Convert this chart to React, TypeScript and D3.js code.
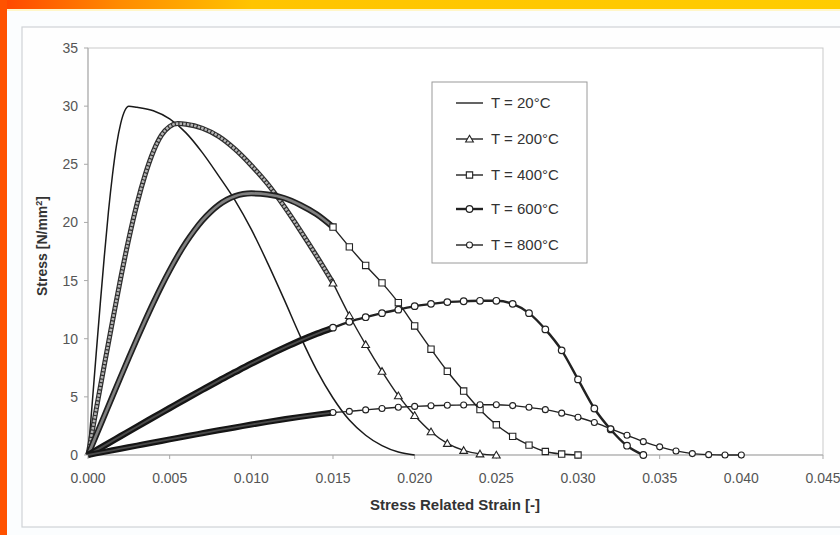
import React from "react";
import * as d3 from "d3";

// ---------- data ----------
const X_TICKS = [0, 0.005, 0.01, 0.015, 0.02, 0.025, 0.03, 0.035, 0.04, 0.045];
const Y_TICKS = [0, 5, 10, 15, 20, 25, 30, 35];
const SERIES_NAMES = ["T = 20°C", "T = 200°C", "T = 400°C", "T = 600°C", "T = 800°C"];

const T20_STRAIN = [0, 0.00025, 0.0005, 0.00075, 0.001, 0.00125, 0.0015, 0.00175, 0.002, 0.00225, 0.0025,
  0.003, 0.004, 0.005, 0.006, 0.007, 0.008, 0.009, 0.010, 0.011, 0.012, 0.013, 0.014, 0.015, 0.016, 0.017, 0.018, 0.019, 0.020];
const T20_STRESS = [0, 4.3, 8.7, 13.0, 17.1, 20.9, 24.1, 26.7, 28.5, 29.6, 30.0,
  29.9, 29.6, 28.9, 27.7, 26.0, 24.0, 21.9, 19.4, 16.5, 13.4, 10.2, 7.3, 4.9, 3.0, 1.7, 0.8, 0.25, 0];

const T200_STRAIN = [0, 0.0005, 0.001, 0.0015, 0.002, 0.0025, 0.003, 0.0035, 0.004, 0.0045, 0.005, 0.0055,
  0.006, 0.007, 0.008, 0.009, 0.010, 0.011, 0.012, 0.013, 0.014, 0.015,
  0.016, 0.017, 0.018, 0.019, 0.020, 0.021, 0.022, 0.023, 0.024, 0.025];
const T200_STRESS = [0, 3.9, 7.75, 11.5, 15.2, 18.6, 21.6, 24.1, 26.1, 27.5, 28.25, 28.5,
  28.45, 28.1, 27.4, 26.3, 24.9, 23.3, 21.4, 19.3, 17.1, 14.8,
  12.0, 9.5, 7.2, 5.1, 3.4, 2.0, 1.0, 0.4, 0.1, 0];

const T400_STRAIN = [0, 0.0005, 0.001, 0.0015, 0.002, 0.0025, 0.003, 0.0035, 0.004, 0.0045, 0.005,
  0.0055, 0.006, 0.0065, 0.007, 0.0075, 0.008, 0.0085, 0.009, 0.0095, 0.010,
  0.011, 0.012, 0.013, 0.014, 0.015,
  0.016, 0.017, 0.018, 0.019, 0.020, 0.021, 0.022, 0.023, 0.024, 0.025, 0.026, 0.027, 0.028, 0.029, 0.030];
const T400_STRESS = [0, 1.69, 3.37, 5.05, 6.72, 8.37, 9.99, 11.56, 13.08, 14.53, 15.88,
  17.14, 18.28, 19.29, 20.17, 20.9, 21.5, 21.95, 22.26, 22.44, 22.5,
  22.4, 22.1, 21.5, 20.7, 19.6,
  17.9, 16.3, 14.8, 13.1, 11.1, 9.1, 7.2, 5.5, 3.9, 2.6, 1.6, 0.85, 0.3, 0.08, 0];

const T600_STRAIN = [0, 0.001, 0.002, 0.003, 0.004, 0.005, 0.006, 0.007, 0.008, 0.009, 0.010,
  0.011, 0.012, 0.013, 0.014, 0.015,
  0.016, 0.017, 0.018, 0.019, 0.020, 0.021, 0.022, 0.023, 0.024, 0.025,
  0.026, 0.027, 0.028, 0.029, 0.030, 0.031, 0.032, 0.033, 0.034];
const T600_STRESS = [0, 0.81, 1.62, 2.43, 3.23, 4.03, 4.83, 5.61, 6.38, 7.12, 7.85,
  8.55, 9.21, 9.84, 10.42, 10.95,
  11.45, 11.85, 12.2, 12.5, 12.8, 13.0, 13.15, 13.22, 13.26, 13.26,
  13.0, 12.2, 10.8, 9.0, 6.5, 4.0, 2.2, 0.8, 0];

const T800_STRAIN = [0, 0.001, 0.002, 0.003, 0.004, 0.005, 0.006, 0.007, 0.008, 0.009, 0.010,
  0.011, 0.012, 0.013, 0.014, 0.015,
  0.016, 0.017, 0.018, 0.019, 0.020, 0.021, 0.022, 0.023, 0.024, 0.025,
  0.026, 0.027, 0.028, 0.029, 0.030, 0.031, 0.032, 0.033, 0.034, 0.035,
  0.036, 0.037, 0.038, 0.039, 0.040];
const T800_STRESS = [0, 0.27, 0.54, 0.81, 1.08, 1.34, 1.61, 1.87, 2.13, 2.37, 2.62,
  2.85, 3.07, 3.28, 3.47, 3.65,
  3.75, 3.88, 4.0, 4.1, 4.18, 4.24, 4.28, 4.3, 4.32, 4.32,
  4.25, 4.1, 3.9, 3.6, 3.25, 2.8, 2.25, 1.7, 1.15, 0.7,
  0.35, 0.12, 0.03, 0, 0];

// strain above which each recorded point is shown with its own marker
const DENSE_LIMIT = 0.015;

type Pt = [number, number];
const zip = (a: number[], b: number[]): Pt[] => a.map((v, i) => [v, b[i]]);

const W = 840, H = 535;
const PL = 88, PR = 823, PT = 48, PB = 455;

export default function App() {
  const x = d3.scaleLinear().domain([0, 0.045]).range([PL, PR]);
  const y = d3.scaleLinear().domain([0, 35]).range([PB, PT]);
  const line = d3.line<Pt>().x(d => x(d[0])).y(d => y(d[1])).curve(d3.curveMonotoneX);

  const s20 = zip(T20_STRAIN, T20_STRESS);
  const s200 = zip(T200_STRAIN, T200_STRESS);
  const s400 = zip(T400_STRAIN, T400_STRESS);
  const s600 = zip(T600_STRAIN, T600_STRESS);
  const s800 = zip(T800_STRAIN, T800_STRESS);

  const dense = (s: Pt[]) => s.filter(d => d[0] <= DENSE_LIMIT + 1e-9);
  const sparse = (s: Pt[]) => s.filter(d => d[0] >= DENSE_LIMIT - 1e-9);

  const tri = d3.symbol().type(d3.symbolTriangle).size(26)() as string;
  const sq = d3.symbol().type(d3.symbolSquare).size(40)() as string;

  const marker = (kind: string, cx: number, cy: number, key: any) => {
    if (kind === "tri") return <path key={key} d={tri} transform={`translate(${cx},${cy + 0.8})`} fill="#fff" stroke="#222" strokeWidth={1.1} />;
    if (kind === "sq") return <path key={key} d={sq} transform={`translate(${cx},${cy})`} fill="#fff" stroke="#222" strokeWidth={1.1} />;
    if (kind === "c6") return <circle key={key} cx={cx} cy={cy} r={3.3} fill="#fff" stroke="#222" strokeWidth={1.2} />;
    return <circle key={key} cx={cx} cy={cy} r={3} fill="#fff" stroke="#222" strokeWidth={1.1} />;
  };

  const band = (s: Pt[], outer: number, inner: number, oc: string, ic: string, dash?: string) => (
    <g>
      <path d={line(dense(s)) as string} fill="none" stroke={oc} strokeWidth={outer} strokeLinejoin="round" />
      <path d={line(dense(s)) as string} fill="none" stroke={ic} strokeWidth={inner} strokeLinejoin="round" strokeDasharray={dash} />
    </g>
  );

  const seriesSparse = (s: Pt[], kind: string, lw: number) => (
    <g>
      <path d={line(sparse(s)) as string} fill="none" stroke="#222" strokeWidth={lw} />
      {sparse(s).map((d, i) => marker(kind, x(d[0]), y(d[1]), i))}
    </g>
  );

  const font = "'Liberation Sans', Arial, sans-serif";
  const legendY = [103, 139, 175, 209, 245];
  const legendKinds = ["none", "tri", "sq", "c6", "c8"];

  return (
    <svg width={W} height={H} style={{ position: "absolute", left: 0, top: 0 }} fontFamily={font}>
      <defs>
        <linearGradient id="topband" x1="0" x2="1" y1="0" y2="0">
          <stop offset="0" stopColor="#ff4500" />
          <stop offset="0.14" stopColor="#ff8a00" />
          <stop offset="0.3" stopColor="#ffc400" />
          <stop offset="1" stopColor="#ffcc00" />
        </linearGradient>
      </defs>
      <rect x={0} y={0} width={W} height={H} fill="#fbfdfe" />
      <rect x={0} y={0} width={W} height={9} fill="url(#topband)" />
      <rect x={0} y={9} width={W} height={2} fill="#fff6c8" />
      <rect x={0} y={0} width={7} height={H} fill="#ff5200" />
      {/* chart frame */}
      <rect x={22} y={27} width={840} height={500} fill="#fefefe" stroke="#cfd3d6" strokeWidth={1.2} />
      {/* plot area */}
      <rect x={PL} y={PT} width={PR - PL} height={PB - PT} fill="#ffffff" stroke="#c9c9c9" strokeWidth={1} />
      <line x1={PL} x2={PL} y1={PT} y2={PB} stroke="#a9a9a9" />
      <line x1={PL} x2={PR} y1={PB} y2={PB} stroke="#a9a9a9" />

      {Y_TICKS.map(t => (
        <g key={"y" + t}>
          <line x1={PL - 4} x2={PL} y1={y(t)} y2={y(t)} stroke="#a9a9a9" />
          <text x={78} y={y(t) + 5} textAnchor="end" fontSize={14} fill="#555">{t}</text>
        </g>
      ))}
      {X_TICKS.map(t => (
        <g key={"x" + t}>
          <line x1={x(t)} x2={x(t)} y1={PB} y2={PB + 4} stroke="#a9a9a9" />
          <text x={x(t)} y={483} textAnchor="middle" fontSize={14} fill="#555">{d3.format(".3f")(t)}</text>
        </g>
      ))}
      <text x={455} y={510} textAnchor="middle" fontSize={15} fontWeight="bold" fill="#333">Stress Related Strain [-]</text>
      <text transform={`translate(47,246) rotate(-90)`} textAnchor="middle" fontSize={14} fontWeight="bold" fill="#333">
        Stress [N/mm<tspan fontSize={9} dy={-5}>2</tspan><tspan dy={5}>]</tspan>
      </text>

      {/* series */}
      <path d={line(s20) as string} fill="none" stroke="#1a1a1a" strokeWidth={1.5} />
      {band(s200, 5, 2.6, "#2e2e2e", "#b4b4b4", "2.5 1.2")}
      {seriesSparse(s200, "tri", 1.4)}
      {band(s400, 6, 2.6, "#202020", "#808080")}
      {seriesSparse(s400, "sq", 1.4)}
      {band(s600, 6.5, 2, "#151515", "#4a4a4a")}
      {seriesSparse(s600, "c6", 2.4)}
      {band(s800, 6, 1.8, "#151515", "#4a4a4a")}
      {seriesSparse(s800, "c8", 1.4)}

      {/* legend */}
      <rect x={432} y={82} width={155} height={181} fill="#ffffff" stroke="#9a9a9a" strokeWidth={1} />
      {SERIES_NAMES.map((n, i) => (
        <g key={n}>
          <line x1={456} x2={483} y1={legendY[i]} y2={legendY[i]} stroke="#222" strokeWidth={i === 3 ? 2.4 : 1.4} />
          {legendKinds[i] !== "none" && marker(legendKinds[i], 469.5, legendY[i], "m")}
          <text x={491} y={legendY[i] + 5} fontSize={15} fill="#333">{n}</text>
        </g>
      ))}
    </svg>
  );
}
